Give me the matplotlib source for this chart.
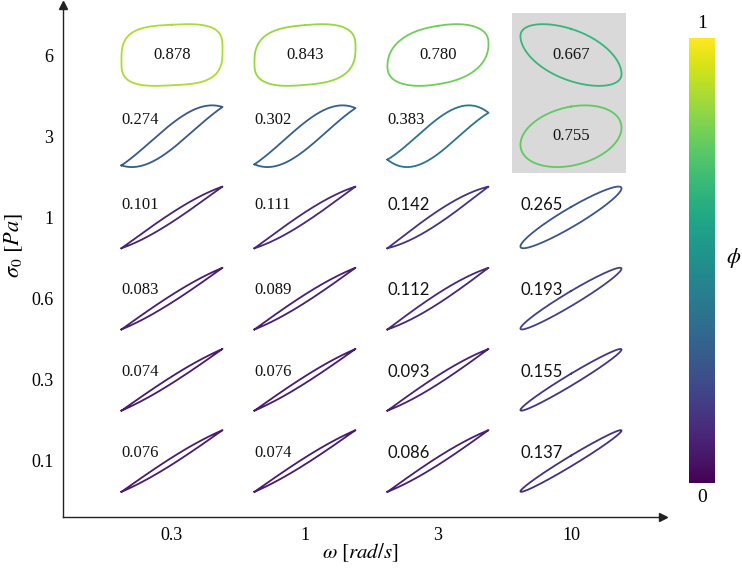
import numpy as np
import matplotlib
matplotlib.use("Agg")
import matplotlib.pyplot as plt
from matplotlib.patches import Rectangle
from matplotlib.cm import ScalarMappable
from matplotlib.colors import Normalize

# axis categories
omega_labels = ['0.3', '1', '3', '10']
sigma_labels = ['0.1', '0.3', '0.6', '1', '3', '6']

# dissipation ratio phi, one list per stress amplitude (columns = omega)
phi_s01 = [0.076, 0.074, 0.086, 0.137]
phi_s03 = [0.074, 0.076, 0.093, 0.155]
phi_s06 = [0.083, 0.089, 0.112, 0.193]
phi_s1 = [0.101, 0.111, 0.142, 0.265]
phi_s3 = [0.274, 0.302, 0.383, 0.755]
phi_s6 = [0.878, 0.843, 0.780, 0.667]
phi_rows = [phi_s01, phi_s03, phi_s06, phi_s1, phi_s3, phi_s6]

# loop shape settings (style only)
lens_skew = [0.3, 0.3, 0.3, 0.4, 0.8, None]   # pointed loops, cols 0-2
squareness = [3.2, 2.8, 2.3, 2.0]             # top row
flipped = (5, 3)                               # drawn with negative slope
label_dy = [0.1, 0.1, 0.1, 0.15, 0.2, 0.0]
half = 0.38


def bisect(f, target, lo, hi):
    for _ in range(50):
        mid = 0.5 * (lo + hi)
        if f(mid) < target:
            lo = mid
        else:
            hi = mid
    return 0.5 * (lo + hi)


def area_ratio(x, y):
    return 0.5 * abs(np.dot(x, np.roll(y, 1)) - np.dot(y, np.roll(x, 1))) / 4


def lissajous_loop(phi, n=2.0, k=0.0):
    # elliptic / rounded loop, area / box = phi
    t = np.linspace(0, 2 * np.pi, 721)
    s, c = np.sin(t), np.cos(t)
    p = 2.0 / n
    u = np.sign(s) * np.abs(s) ** p
    v = np.sign(c) * np.abs(c) ** p

    def shape(d):
        y = u * np.cos(d) + v * np.sin(d) * (1 - k * u * np.sign(v))
        return u, y / np.abs(y).max()

    d = bisect(lambda d: area_ratio(*shape(d)), phi, 1e-4, np.pi / 2)
    return shape(d)


def lens_loop(phi, q):
    # pointed loop, upper branch bulges right, lower bulges left
    x = np.linspace(-1, 1, 361)

    def shape(w):
        yu = x + w * (1 - x ** 2) * (1 + q * x)
        yl = x - w * (1 - x ** 2) * (1 - q * x)
        y = np.concatenate([yu, yl[::-1]])
        return np.concatenate([x, x[::-1]]), y / np.abs(y).max()

    w = bisect(lambda w: area_ratio(*shape(w)), phi, 0.0, 2.0)
    return shape(w)


plt.rcParams['font.family'] = 'Liberation Serif'
plt.rcParams['mathtext.fontset'] = 'stix'

fig = plt.figure(figsize=(7.42, 5.70), dpi=100)
ax = fig.add_axes([63 / 742, 53 / 570, 600 / 742, 512 / 570])
ax.set_xlim(-0.8195, 3.692)
ax.set_ylim(-0.6897, 5.616)

cmap = plt.get_cmap('viridis')

# highlighted cells
ax.add_patch(Rectangle((3 - 0.44, 4 - 0.453), 0.854, 1.97,
                       facecolor='#d9d9d9', edgecolor='none', zorder=0))

for r, row in enumerate(phi_rows):
    for ci, phi in enumerate(row):
        if r == 5:
            x, y = lissajous_loop(phi, squareness[ci], 0.12)
        elif ci == 3:
            x, y = lissajous_loop(phi)
        else:
            x, y = lens_loop(phi, lens_skew[r])
        if (r, ci) == flipped:
            x = -x
        ax.plot(ci + half * x, r + half * y, color=cmap(phi), lw=1.3)

        label = f'{phi:.3f}'
        if r == 5 or (r, ci) == (4, 3):
            ax.text(ci, r, label, ha='center', va='center', fontsize=12,
                    color='#111111')
        else:
            fam = 'Lato' if (ci >= 2 and r <= 3) else 'Liberation Serif'
            ax.text(ci - half, r + label_dy[r], label, ha='left',
                    va='center', fontsize=12, family=fam, color='#111111')

# arrow axes
for side in ['top', 'right']:
    ax.spines[side].set_visible(False)
for side in ['left', 'bottom']:
    ax.spines[side].set_color('#222222')
    ax.spines[side].set_linewidth(1.0)
ax.plot(1, 0, '>', color='#222222', ms=6, transform=ax.transAxes, clip_on=False)
ax.plot(0, 1, '^', color='#222222', ms=6, transform=ax.transAxes, clip_on=False)

ax.set_xticks(range(len(omega_labels)))
ax.set_xticklabels(omega_labels)
ax.set_yticks(range(len(sigma_labels)))
ax.set_yticklabels(sigma_labels)
ax.tick_params(axis='both', length=0, labelsize=13)
ax.tick_params(axis='x', pad=7)
ax.tick_params(axis='y', pad=7)

ax.set_xlabel(r'$\omega\ [rad/s]$', fontsize=15)
ax.xaxis.set_label_coords(0.495, -0.048)
ax.set_ylabel(r'$\sigma_0\ [Pa]$', fontsize=16)
ax.yaxis.set_label_coords(-0.063, 0.53)

# colour bar
cax = fig.add_axes([689 / 742, 87 / 570, 26 / 742, 445 / 570])
sm = ScalarMappable(norm=Normalize(0, 1), cmap=cmap)
cb = fig.colorbar(sm, cax=cax)
cb.set_ticks([])
cb.outline.set_visible(False)
fig.text(702 / 742, 1 - 23 / 570, '1', ha='center', va='center', fontsize=14)
fig.text(702 / 742, 1 - 498 / 570, '0', ha='center', va='center', fontsize=14)
fig.text(734 / 742, 1 - 258 / 570, r'$\phi$', ha='center', va='center', fontsize=16)

fig.savefig('out.png', dpi=100)
